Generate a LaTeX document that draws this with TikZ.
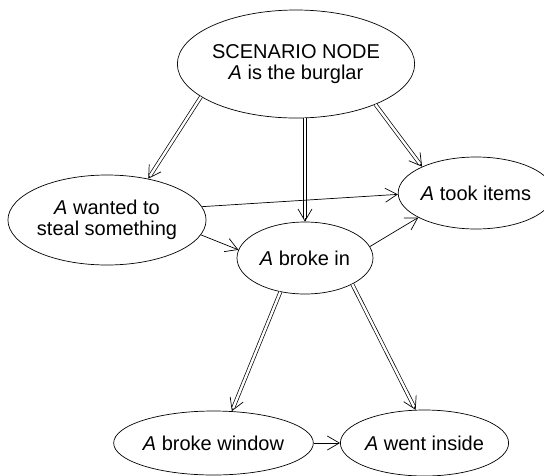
\documentclass[tikz,border=0pt]{standalone}
\usepackage{fontspec}
\setmainfont{Liberation Sans}
\usetikzlibrary{shapes.geometric,arrows.meta}
\newcommand\dblarrow[2]{%
  \draw[sgl] #1 -- #2;
  \draw[dline] #1 -- #2;}
\begin{document}
\begin{tikzpicture}[x=1pt,y=-1pt,
  ell/.style={draw, ellipse, line width=0.7pt, inner sep=0pt, align=center,
    font=\fontsize{20}{21.5}\selectfont},
  sgl/.style={line width=0.7pt, -{Straight Barb[length=12pt,width=14pt,line width=0.7pt]}},
  dline/.style={line width=0.7pt, double=white, double distance=2.4pt, shorten >=3.5pt}]
\useasboundingbox (0,0) rectangle (544,475);
\node[ell, minimum width=208pt, minimum height=108pt] (scen) at (296,64)
  {SCENARIO NODE\\\textit{A} is the burglar};
\node[ell, minimum width=190pt, minimum height=90pt] (want) at (107,220)
  {\textit{A} wanted to\\steal something};
\node[ell, minimum width=132pt, minimum height=72pt] (took) at (476,193)
  {\textit{A} took items};
\node[ell, minimum width=136pt, minimum height=72pt] (brk) at (305,258)
  {\textit{A} broke in};
\node[ell, minimum width=197pt, minimum height=64pt] (win) at (213.5,443)
  {\textit{A} broke window};
\node[ell, minimum width=137pt, minimum height=66pt] (went) at (424.5,443)
  {\textit{A} went inside};
\dblarrow{(scen.199)}{(want.45)}
\dblarrow{(brk.north |- scen.south)}{(brk.north)}
\dblarrow{(scen.-27)}{(took.154)}
\draw[sgl] (want.8) -- (took.181);
\draw[sgl] (want.-9) -- (brk.173);
\draw[sgl] (brk.10) -- (took.203);
\dblarrow{(brk.234)}{(win.60)}
\dblarrow{(brk.-29)}{(went.105)}
\draw[sgl] (win) -- (went);
\end{tikzpicture}
\end{document}
